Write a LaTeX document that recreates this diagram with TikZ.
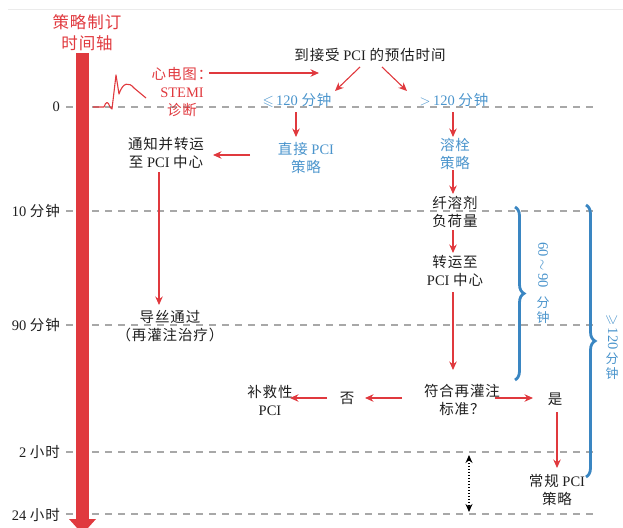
\documentclass[tikz,border=0pt]{standalone}
\usepackage{fontspec}
\usepackage{amssymb}
\setmainfont{Liberation Serif}
\newfontfamily\C[LetterSpace=6]{Noto Sans CJK SC}
\usetikzlibrary{arrows.meta,decorations.pathreplacing}
\definecolor{ared}{HTML}{E0393E}
\definecolor{ablue}{HTML}{3A86C2}
\definecolor{tblue}{HTML}{4A94CC}
\definecolor{agray}{HTML}{A8A8A8}
\begin{document}
\begin{tikzpicture}[x=1pt,y=-1pt,
  font=\fontsize{14.5}{18}\selectfont,
  txt/.style={align=center, inner sep=1pt, text=black!88},
  btxt/.style={txt, text=tblue},
  rtxt/.style={txt, text=ared},
  rarr/.style={draw=ared, line width=1.1pt, -{Stealth[length=8.5pt,width=7.5pt]}},
  levelline/.style={draw=agray, line width=1.4pt, dash pattern=on 7pt off 6pt},
  lbl/.style={anchor=east, inner sep=0pt, text=black!88},
  bluebrace/.style={draw=ablue, line width=2.8pt, decorate, decoration={brace, amplitude=9pt}}]
\useasboundingbox (0,0) rectangle (623,527);
% faint top rule
\coordinate (ta) at (8,9); \coordinate (tb) at (623,9);
\draw[black!8, line width=0.6pt] (ta) -- (tb);

% level labels
\node[lbl] (l0) at (60,107) {0};
\node[lbl] (l10) at (60,211) {10 {\C 分钟}};
\node[lbl] (l90) at (60,325) {90 {\C 分钟}};
\node[lbl] (l2) at (60,452) {2 {\C 小时}};
\node[lbl] (l24) at (60,515) {24 {\C 小时}};

% dashed level lines
\foreach \n/\y in {a/107,b/211,c/325,d/452,e/514}{
  \coordinate (s\n) at (66,\y); \coordinate (e\n) at (596,\y);
  \draw[levelline] (s\n) -- (e\n);
}

% timeline bar
\fill[ared] (76,53) rectangle (89,520);
\fill[ared] (69,519) -- (96,519) -- (82.5,534) -- cycle;
\node[rtxt, font=\fontsize{16.5}{21}\selectfont] (title) at (87,33) {\C 策略制订\\\C 时间轴};

% ECG
\draw[ared, line width=1.1pt, line join=round] (93,107) -- (104,107) .. controls (106,101) and (108,101) .. (110,107)
  -- (112,109) -- (116,75) -- (119,94) .. controls (123,82) and (129,82) .. (134,88) -- (146,98);

% left-top texts
\node[rtxt] (ecg) at (182,92) {\C 心电图：\\STEMI\\\C 诊断};
\coordinate (ecgarr) at (209,73);
\node[txt] (est) at (370,55) {{\C 到接受} PCI {\C 的预估时间}};
\node[btxt] (le) at (297,100) {$\leqslant$\,120 {\C 分钟}};
\node[btxt] (gt) at (454,100) {$>$\,120 {\C 分钟}};
\node[btxt] (direct) at (306,158) {{\C 直接} PCI\\\C 策略};
\node[txt] (notify) at (166,153) {\C 通知并转运\\{\C 至} PCI {\C 中心}};
\node[txt] (wire) at (170,326) {\C 导丝通过\\\C （再灌注治疗）};

% right column
\node[btxt] (lysis) at (455,154) {\C 溶栓\\\C 策略};
\node[txt] (load) at (455,212) {\C 纤溶剂\\\C 负荷量};
\node[txt] (trans) at (455,271) {\C 转运至\\PCI {\C 中心}};
\node[txt] (crit) at (462,400) {\C 符合再灌注\\\C 标准？};
\node[txt] (no) at (347,398) {\C 否};
\node[txt] (rescue) at (270,400) {\C 补救性\\PCI};
\node[txt] (yes) at (555,399) {\C 是};
\node[txt] (routine) at (557,490) {{\C 常规} PCI\\\C 策略};

% arrows
\draw[rarr] (ecgarr) -- (319,73);
\draw[rarr] (360,67) -- (335,91);
\draw[rarr] (382,67) -- (407,91);
\draw[rarr] (296,112) -- (296,137);
\draw[rarr] (250,155) -- (213,155);
\draw[rarr] (159,172) -- (159,305);
\draw[rarr] (453,112) -- (453,137);
\draw[rarr] (453,170) -- (453,194);
\draw[rarr] (453,230) -- (453,253);
\draw[rarr] (453,292) -- (453,370);
\draw[rarr] (402,398) -- (365,398);
\draw[rarr] (327,398) -- (290,398);
\draw[rarr] (495,398) -- (533,398);
\draw[rarr] (557,412) -- (557,468);

% dotted double arrow
\coordinate (da) at (469,455); \coordinate (db) at (469,512);
\draw[black, line width=1.3pt, dash pattern=on 1.3pt off 1.7pt, {Stealth[length=8pt,width=7pt]}-{Stealth[length=8pt,width=7pt]}] (da) -- (db);

% braces
\coordinate (b1a) at (515,207); \coordinate (b1b) at (515,380);
\draw[bluebrace] (b1a) -- (b1b);
\coordinate (b2a) at (586,205); \coordinate (b2b) at (586,477);
\draw[bluebrace] (b2a) -- (b2b);
\node[btxt, rotate=-90] (r1) at (543,265) {60\,$\sim$\,90};
\node[btxt, font=\fontsize{13}{16}\selectfont] (r1a) at (543,303) {\C 分};
\node[btxt, font=\fontsize{13}{16}\selectfont] (r1b) at (543,318) {\C 钟};
\node[btxt, rotate=-90] (r2) at (612,332) {$\geqslant$\,120};
\node[btxt, font=\fontsize{13}{16}\selectfont] (r2a) at (612,359) {\C 分};
\node[btxt, font=\fontsize{13}{16}\selectfont] (r2b) at (612,374) {\C 钟};
\end{tikzpicture}
\end{document}
